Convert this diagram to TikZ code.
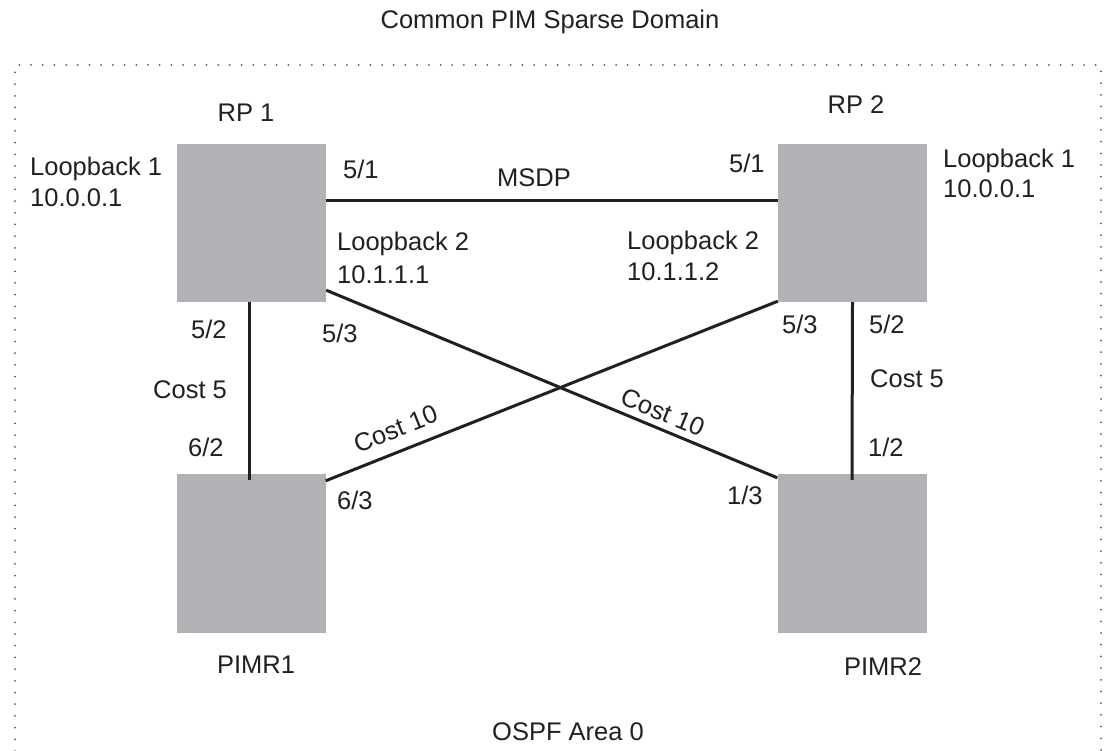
\documentclass[tikz,border=0pt]{standalone}
\usepackage{fontspec}
\setmainfont{Liberation Sans}
\definecolor{boxgray}{RGB}{177,178,181}
\definecolor{ink}{RGB}{35,31,32}
\begin{document}
\begin{tikzpicture}[x={(1pt,0)},y={(0,-1pt)},
  box/.style={fill=boxgray, draw=none, inner sep=0, minimum width=149pt, minimum height=158pt},
  lbl/.style={font=\fontsize{25.5}{30}\selectfont, inner sep=0, text=ink},
  link/.style={line width=3pt, draw=ink},
  border/.style={line width=2pt, draw=ink!75, dash pattern=on 0pt off 11.7pt, line cap=round}]
\useasboundingbox (0,0) rectangle (1106,751);
% domain border (open at bottom)
\draw[border] (15,751) -- (15,65) -- (1101,65) -- (1101,751);
% routers
\node[box] (rp1) at (251.5,223) {};
\node[box] (rp2) at (852.5,223) {};
\node[box, minimum height=159pt] (pimr1) at (251,553.5) {};
\node[box, minimum height=159pt] (pimr2) at (852,553.5) {};
% links
\draw[link] ([yshift=22pt]rp1.east) -- ([yshift=22pt]rp2.west);
\draw[link] ([xshift=-2.5pt]rp1.south) -- ([xshift=-2pt,yshift=-6pt]pimr1.north);
\draw[link] (rp2.south) -- ([yshift=-6pt]pimr2.north);
\draw[link] ([yshift=12pt]rp1.south east) -- node[lbl, pos=0.732, sloped, anchor=south, yshift=6pt] (c10b) {Cost 10} ([yshift=-4pt]pimr2.north west);
\draw[link] ([yshift=-7pt]pimr1.north east) -- node[lbl, pos=0.173, sloped, anchor=south, yshift=12pt] (c10a) {Cost 10} ([yshift=1pt]rp2.south west);
% titles
\node[lbl, anchor=base] (title) at (550,29) {Common PIM Sparse Domain};
\node[lbl, anchor=base] (ospf) at (568,740) {OSPF Area 0};
\node[lbl, anchor=base] (rp1lbl) at (246,122) {RP 1};
\node[lbl, anchor=base] (rp2lbl) at (856,114) {RP 2};
\node[lbl, anchor=base] (pimr1lbl) at (256,673) {PIMR1};
\node[lbl, anchor=base] (pimr2lbl) at (883,675) {PIMR2};
% loopbacks
\node[lbl, anchor=base west] (lb1a) at (30,176) {Loopback 1};
\node[lbl, anchor=base west] (lb1b) at (30,207) {10.0.0.1};
\node[lbl, anchor=base west] (lb1c) at (943,168) {Loopback 1};
\node[lbl, anchor=base west] (lb1d) at (943,198) {10.0.0.1};
\node[lbl, anchor=base west] (lb2a) at (337,251) {Loopback 2};
\node[lbl, anchor=base west] (lb2b) at (337,284) {10.1.1.1};
\node[lbl, anchor=base west] (lb2c) at (627,250) {Loopback 2};
\node[lbl, anchor=base west] (lb2d) at (627,281) {10.1.1.2};
% port / link labels
\node[lbl, anchor=base west] (p51a) at (343,179) {5/1};
\node[lbl, anchor=base] (msdp) at (534,187) {MSDP};
\node[lbl, anchor=base west] (p51b) at (729,173) {5/1};
\node[lbl, anchor=base west] (p52a) at (191,338) {5/2};
\node[lbl, anchor=base west] (p53a) at (322,342) {5/3};
\node[lbl, anchor=base west] (c5a) at (153,399) {Cost 5};
\node[lbl, anchor=base west] (p62) at (188,456) {6/2};
\node[lbl, anchor=base west] (p63) at (337,509) {6/3};
\node[lbl, anchor=base west] (p53b) at (782,334) {5/3};
\node[lbl, anchor=base west] (p52b) at (869,334) {5/2};
\node[lbl, anchor=base west] (c5b) at (870,388) {Cost 5};
\node[lbl, anchor=base west] (p12) at (868,456) {1/2};
\node[lbl, anchor=base west] (p13) at (727,504) {1/3};
\end{tikzpicture}
\end{document}
